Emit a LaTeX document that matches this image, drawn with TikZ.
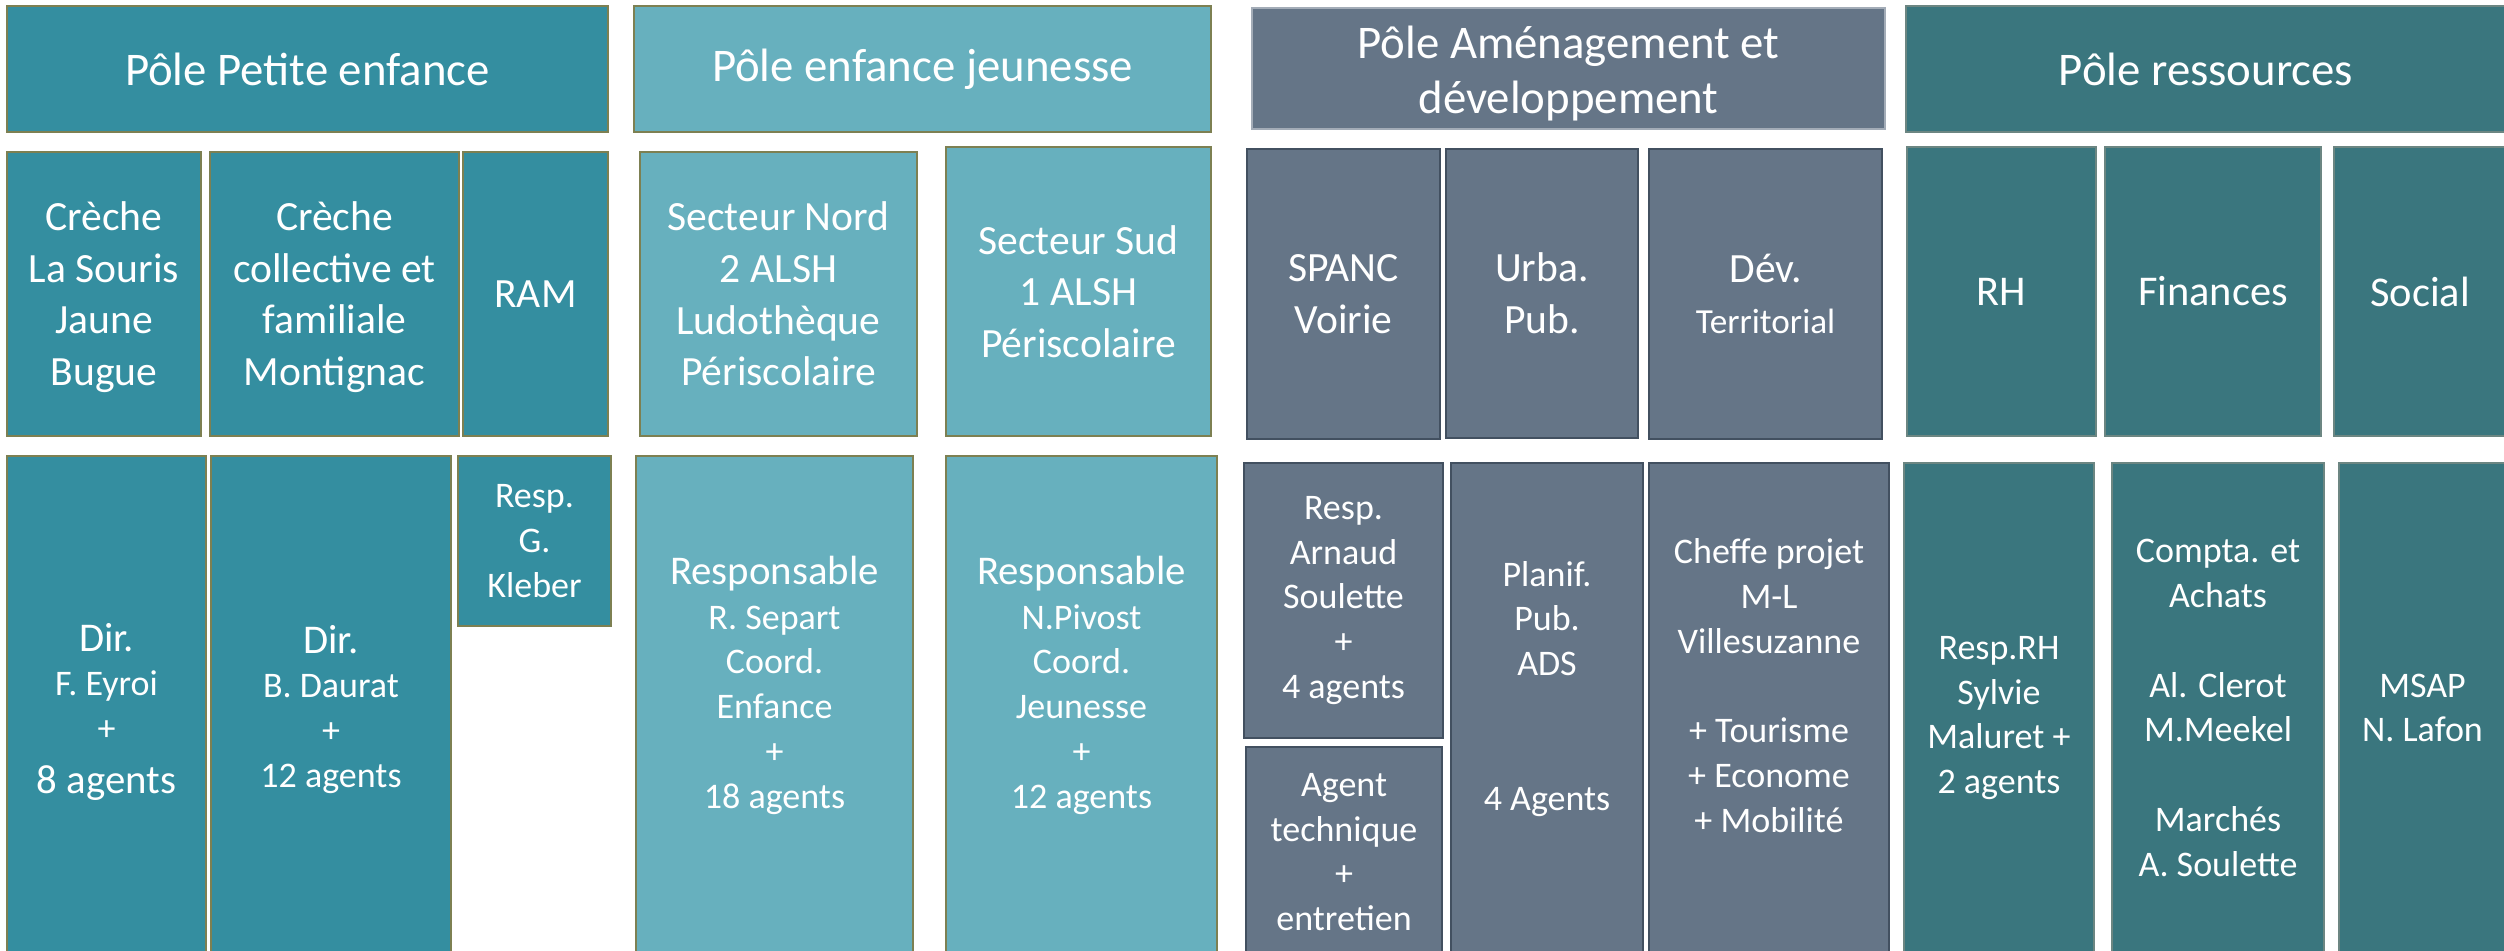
\documentclass[tikz,border=0pt]{standalone}
\usepackage{fontspec}
\setmainfont{Carlito}

\definecolor{bleupe}{RGB}{52,142,160}
\definecolor{bleuej}{RGB}{103,176,190}
\definecolor{ardoise}{RGB}{101,117,135}
\definecolor{petrole}{RGB}{58,118,126}
\definecolor{olive}{RGB}{125,128,82}
\definecolor{ardoisefonce}{RGB}{66,80,96}
\definecolor{grisvert}{RGB}{108,134,130}

\tikzset{
    pe/.style={fill=bleupe,draw=olive,line width=.35pt},
    ej/.style={fill=bleuej,draw=olive,line width=.35pt},
    am/.style={fill=ardoise,draw=ardoisefonce,line width=.6pt},
    rs/.style={fill=petrole,draw=grisvert,line width=.35pt},
    texte/.style={text=white,align=center,inner sep=0pt},
    titre/.style={texte,font=\fontsize{11.7}{13.75}\selectfont},
    service/.style={texte,font=\fontsize{10.4}{12.9}\selectfont},
    equipe/.style={texte,font=\fontsize{9}{11.2}\selectfont},
}
\newcommand{\grand}{\fontsize{10.2}{11.2}\selectfont}

\begin{document}
\begin{tikzpicture}[x=.25pt,y=-.25pt]
    \useasboundingbox (0,0) rectangle (2504,951);
    \clip (0,0) rectangle (2504,951);
    \fill[white] (0,0) rectangle (2504,951);
    % Les quatre pôles
    \draw[pe] (7,6) rectangle (608,132) node[midway,titre] (tpe) {Pôle Petite enfance};
    \draw[ej] (634,6) rectangle (1211,132) node[midway,titre] (tej) {Pôle enfance jeunesse};
    \draw[am,draw=ardoise!60!white,line width=.35pt] (1252,8) rectangle (1885,129)
        node[midway,titre,yshift=-1.2pt] (tam) {Pôle Aménagement et\\développement};
    \draw[rs] (1906,6) rectangle (2506,132) node[midway,titre] (trs) {Pôle ressources};
    % Services
    \draw[pe] (7,152) rectangle (201,436) node[midway,service,yshift=-.8pt] (creche) {Crèche\\La Souris\\Jaune\\Bugue};
    \draw[pe] (210,152) rectangle (459,436) node[midway,service,yshift=-.8pt] (montignac) {Crèche\\collective et\\familiale\\Montignac};
    \draw[pe] (463,152) rectangle (608,436) node[midway,service] (ram) {RAM};
    \draw[ej] (640,152) rectangle (917,436) node[midway,service] (nord) {Secteur Nord\\2 ALSH\\Ludothèque\\Périscolaire};
    \draw[ej] (946,147) rectangle (1211,436) node[midway,service] (sud) {Secteur Sud\\1 ALSH\\Périscolaire};
    \draw[am] (1247,149) rectangle (1440,439) node[midway,service] (spanc) {SPANC\\Voirie};
    \draw[am] (1446,149) rectangle (1638,438) node[midway,service] (urba) {Urba.\\Pub.};
    \draw[am] (1649,149) rectangle (1882,439) node[midway,service] (dev)
        {Dév.\\{\fontsize{8.8}{12.9}\selectfont Territorial}};
    \draw[rs] (1907,147) rectangle (2096,436) node[midway,service,font=\fontsize{10.6}{12.9}\selectfont] (rh) {RH};
    \draw[rs] (2105,147) rectangle (2321,436) node[midway,service,font=\fontsize{10.6}{12.9}\selectfont] (fin) {Finances};
    \draw[rs] (2334,147) rectangle (2506,436) node[midway,service,font=\fontsize{10.6}{12.9}\selectfont] (soc) {Social};
    % Equipes
    \draw[pe] (7,456) rectangle (206,953) node[midway,equipe,yshift=-1.8pt] (eyroi)
        {{\grand Dir.}\\F. Eyroi\\+\\[2pt]{\grand 8 agents}};
    \draw[pe] (211,456) rectangle (451,953) node[midway,equipe,yshift=-1.2pt] (daurat)
        {{\grand Dir.}\\B. Daurat\\+\\12 agents};
    \draw[pe] (458,456) rectangle (611,626) node[midway,equipe] (kleber) {Resp.\\G.\\Kleber};
    \draw[ej] (636,456) rectangle (913,953) node[midway,equipe] (separt)
        {{\grand Responsable}\\R. Separt\\Coord.\\Enfance\\+\\18 agents\\~};
    \draw[ej] (946,456) rectangle (1217,953) node[midway,equipe] (pivost)
        {{\grand Responsable}\\N.Pivost\\Coord.\\Jeunesse\\+\\12 agents\\~};
    \draw[am] (1244,463) rectangle (1443,738) node[midway,equipe] (soulette)
        {Resp.\\Arnaud\\Soulette\\+\\4 agents};
    \draw[am] (1246,747) rectangle (1442,957) node[midway,equipe] (technique)
        {Agent\\technique\\+\\entretien};
    \draw[am] (1451,463) rectangle (1643,953) node[midway,equipe] (planif)
        {Planif.\\Pub.\\ADS\\~\\~\\4 Agents\\~};
    \draw[am] (1649,463) rectangle (1889,953) node[midway,equipe] (cheffe)
        {Cheffe projet\\M-L\\Villesuzanne\\~\\+ Tourisme\\+ Econome\\+ Mobilité\\~};
    \draw[rs] (1904,463) rectangle (2094,953) node[midway,equipe,yshift=-2.5pt] (resprh)
        {Resp.RH\\Sylvie\\Maluret +\\2 agents};
    \draw[rs] (2112,463) rectangle (2324,953) node[midway,equipe] (compta)
        {Compta. et\\Achats\\~\\Al. Clerot\\M.Meekel\\~\\Marchés\\A. Soulette};
    \draw[rs] (2339,463) rectangle (2506,953) node[midway,equipe] (msap) {MSAP\\N. Lafon};
\end{tikzpicture}
\end{document}
